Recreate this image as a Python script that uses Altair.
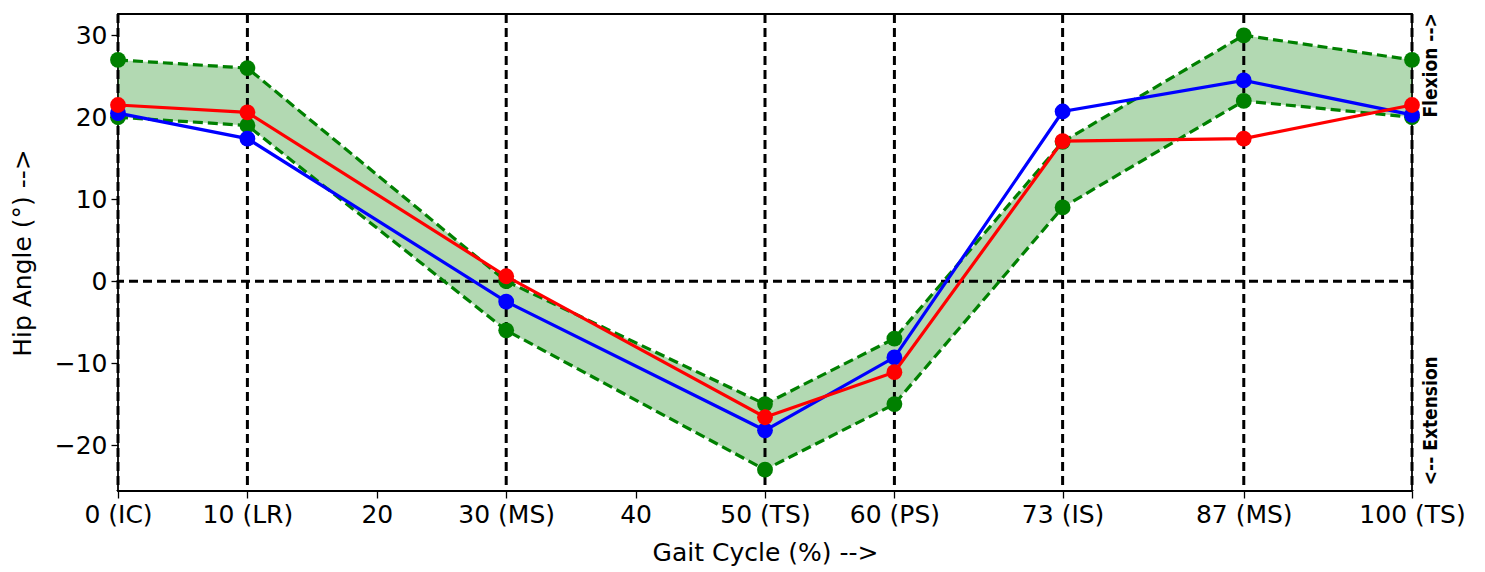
import altair as alt
import pandas as pd

# Gait cycle positions (%)
x_pos = [0, 10, 30, 50, 60, 73, 87, 100]
# Normal range band (green)
green_upper = [27, 26, 0, -15, -7, 17, 30, 27]
green_lower = [20, 19, -6, -23, -15, 9, 22, 20]
# Measured series
blue_vals = [20.5, 17.4, -2.5, -18.2, -9.3, 20.7, 24.5, 20.3]
red_vals = [21.5, 20.6, 0.6, -16.6, -11.1, 17.1, 17.4, 21.5]

# Axis ticks and labels
x_ticks = [0, 10, 20, 30, 40, 50, 60, 73, 87, 100]
x_labels = ["0 (IC)", "10 (LR)", "20", "30 (MS)", "40", "50 (TS)", "60 (PS)",
            "73 (IS)", "87 (MS)", "100 (TS)"]
y_ticks = [-20, -10, 0, 10, 20, 30]
vlines = [0, 10, 30, 50, 60, 73, 87, 100]
hlines = [0]
annotations = ["Flexion -->", "<-- Extension"]
annotation_y = [32.7, -24.9]

W, H = 1294, 477
FONT = "DejaVu Sans"
FS = 25
MS = 250

band = pd.DataFrame({"x": x_pos, "lo": green_lower, "hi": green_upper})
green_long = pd.DataFrame({
    "x": x_pos * 2,
    "y": green_upper + green_lower,
    "s": ["upper"] * len(x_pos) + ["lower"] * len(x_pos),
})
blue_df = pd.DataFrame({"x": x_pos, "y": blue_vals})
red_df = pd.DataFrame({"x": x_pos, "y": red_vals})
vl_df = pd.DataFrame({"x": vlines})
hl_df = pd.DataFrame({"y": hlines})

label_expr = "{" + ",".join(f"'{t}':'{l}'" for t, l in zip(x_ticks, x_labels)) + "}[datum.value]"

xscale = alt.Scale(domain=[0, 100], nice=False, zero=False)
yscale = alt.Scale(domain=[-25.6, 32.6], nice=False, zero=False)

xenc = alt.X("x:Q", scale=xscale, axis=alt.Axis(
    values=x_ticks, labelExpr=label_expr, title="Gait Cycle (%) -->",
    grid=False, domain=False, tickColor="black", tickWidth=1.3, tickSize=7,
    labelFont=FONT, labelFontSize=FS, labelColor="black", labelPadding=4,
    titleFont=FONT, titleFontSize=FS, titleFontWeight="normal", titleColor="black",
    titlePadding=13, labelOverlap=False, labelFlush=False))
yaxis = alt.Axis(values=y_ticks, title="Hip Angle (°)  -->", grid=False, domain=False,
                 tickColor="black", tickWidth=1.3, tickSize=7,
                 labelFont=FONT, labelFontSize=FS, labelColor="black", labelPadding=4,
                 titleFont=FONT, titleFontSize=FS, titleFontWeight="normal",
                 titleColor="black", titlePadding=19)

area = alt.Chart(band).mark_area(color="green", opacity=0.3).encode(
    x=xenc, y=alt.Y("lo:Q", scale=yscale, axis=yaxis), y2="hi:Q")

vrules = alt.Chart(vl_df).mark_rule(color="black", strokeWidth=3, strokeDash=[9, 5]).encode(
    x=alt.X("x:Q", scale=xscale))
hrules = alt.Chart(hl_df).mark_rule(color="black", strokeWidth=3, strokeDash=[9, 5]).encode(
    y=alt.Y("y:Q", scale=yscale))

green_lines = alt.Chart(green_long).mark_line(color="green", strokeWidth=3.2, strokeDash=[10, 5]).encode(
    x=alt.X("x:Q", scale=xscale), y=alt.Y("y:Q", scale=yscale), detail="s:N")
green_pts = alt.Chart(green_long).mark_circle(color="green", size=MS, opacity=1).encode(
    x=alt.X("x:Q", scale=xscale), y=alt.Y("y:Q", scale=yscale))

def series(df, color):
    line = alt.Chart(df).mark_line(color=color, strokeWidth=3.2).encode(
        x=alt.X("x:Q", scale=xscale), y=alt.Y("y:Q", scale=yscale))
    pts = alt.Chart(df).mark_circle(color=color, size=MS, opacity=1).encode(
        x=alt.X("x:Q", scale=xscale), y=alt.Y("y:Q", scale=yscale))
    return line + pts

ann_df = pd.DataFrame({"y": annotation_y, "t": annotations})
ann_top = alt.Chart(ann_df.iloc[[0]]).mark_text(
    angle=270, align="right", baseline="middle", font="DejaVu Sans Condensed",
    fontWeight="bold", fontSize=19, color="black").encode(
    x=alt.value(W + 19), y=alt.Y("y:Q", scale=yscale), text="t:N")
ann_bot = alt.Chart(ann_df.iloc[[1]]).mark_text(
    angle=270, align="left", baseline="middle", font="DejaVu Sans Condensed",
    fontWeight="bold", fontSize=19, color="black").encode(
    x=alt.value(W + 19), y=alt.Y("y:Q", scale=yscale), text="t:N")

chart = alt.layer(
    area, vrules, hrules, green_lines, green_pts,
    series(blue_df, "blue"), series(red_df, "red"), ann_top, ann_bot
).properties(
    width=W, height=H,
    autosize=alt.AutoSizeParams(type="none"),
    padding={"left": 110, "top": 6, "right": 60, "bottom": 80},
).configure(background="white").configure_view(stroke="black", strokeWidth=1.8)

chart.save("out.html", embed_options={"renderer": "svg", "actions": False})
